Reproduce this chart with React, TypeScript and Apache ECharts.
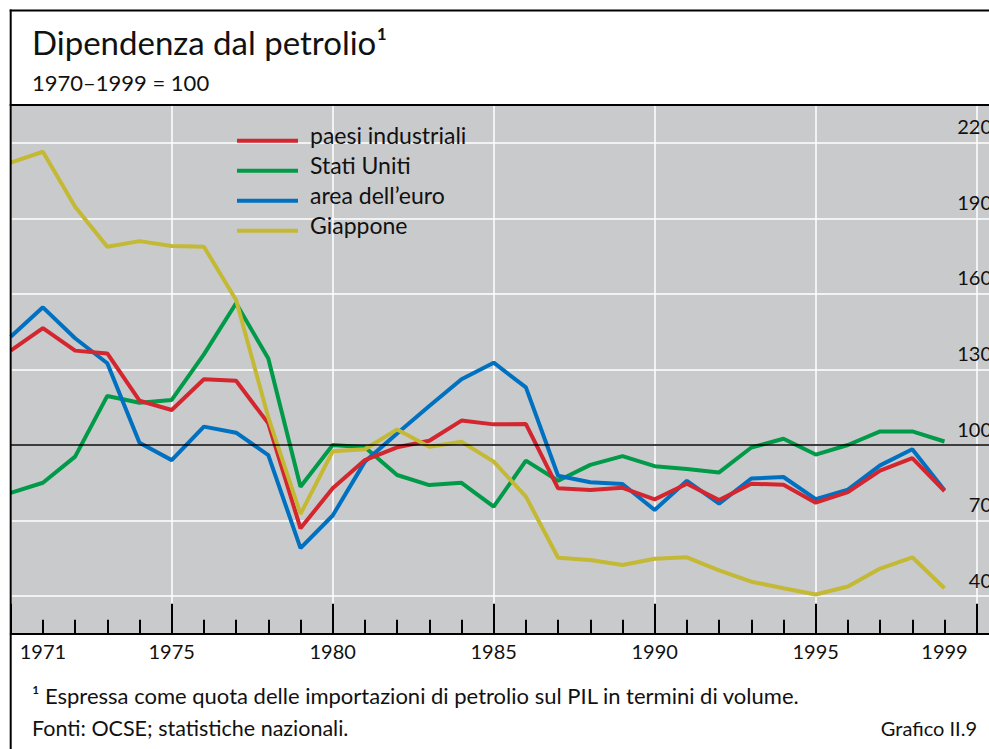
import React, { useEffect, useRef } from "react";
import * as echarts from "echarts";

const years = [
  1970, 1971, 1972, 1973, 1974, 1975, 1976, 1977, 1978, 1979,
  1980, 1981, 1982, 1983, 1984, 1985, 1986, 1987, 1988, 1989,
  1990, 1991, 1992, 1993, 1994, 1995, 1996, 1997, 1998, 1999,
];
const industrial = [
  137.5, 146.4, 137.5, 136.4, 117.6, 113.9, 126.1, 125.5, 108.6, 66.9,
  82.8, 94.0, 99.1, 101.7, 109.7, 108.2, 108.3, 82.8, 82.1, 83.0,
  78.4, 84.6, 78.1, 84.6, 84.2, 77.1, 81.3, 89.8, 94.8, 81.7,
];
const usa = [
  81.0, 85.0, 95.4, 119.5, 116.8, 117.9, 136.0, 156.3, 134.4, 83.4,
  100.0, 99.1, 88.1, 84.1, 85.0, 75.5, 93.8, 85.8, 92.1, 95.6,
  91.6, 90.5, 89.1, 99.0, 102.5, 96.2, 100.0, 105.4, 105.4, 101.4,
];
const euroArea = [
  143.0, 154.7, 142.4, 132.5, 100.9, 94.0, 107.3, 104.9, 96.0, 59.0,
  72.0, 93.4, 104.6, 115.5, 126.1, 132.7, 122.9, 87.8, 85.2, 84.5,
  74.2, 85.8, 76.7, 86.7, 87.3, 78.5, 82.3, 91.9, 98.3, 82.0,
];
const japan = [
  212.2, 216.5, 194.7, 178.8, 181.0, 179.1, 178.8, 157.6, 111.0, 72.6,
  97.5, 98.3, 106.2, 99.3, 101.3, 93.4, 79.5, 55.2, 54.3, 52.3,
  54.8, 55.4, 50.2, 45.7, 43.1, 40.6, 43.8, 50.9, 55.4, 43.1,
];
const seriesNames = ["paesi industriali", "Stati Uniti", "area dell\u2019euro", "Giappone"];
const xLabelYears = [1971, 1975, 1980, 1985, 1990, 1995, 1999];
const yLabelValues = [40, 70, 100, 130, 160, 190, 220];

const FONT = "Lato";
const TEXT = "#111111";

function pairs(vals: number[]) {
  return years.map((y, i) => [y, vals[i]]);
}

export default function App() {
  const ref = useRef<HTMLDivElement>(null);
  useEffect(() => {
    if (!ref.current) return;
    const chart = echarts.init(ref.current, undefined, { renderer: "svg" });
    const lineSeries = (name: string, vals: number[], color: string, extra: any = {}) => ({
      type: "line",
      name,
      data: pairs(vals),
      symbol: "none",
      color,
      lineStyle: { color, width: 4 },
      z: 3,
      ...extra,
    });
    chart.setOption({
      animation: false,
      grid: {
        left: 10.7,
        right: 58.9,
        top: 105.2,
        bottom: 115.2,
        show: true,
        backgroundColor: "#c9cacc",
        borderWidth: 0,
      },
      legend: {
        orient: "vertical",
        left: 237,
        top: 123.7,
        padding: 0,
        itemGap: 7,
        itemWidth: 61,
        itemHeight: 15,
        icon: "path://M0,0 M0,11 L61,11 L61,15 L0,15 Z",
        data: seriesNames,
        textStyle: {
          fontFamily: FONT,
          fontSize: 23,
          lineHeight: 23,
          color: TEXT,
          padding: [0, 0, 0, 7],
        },
      },
      xAxis: {
        type: "value",
        min: 1970,
        max: 2002,
        interval: 5,
        axisLine: { lineStyle: { color: "#000", width: 2 } },
        axisTick: { inside: true, length: 30, lineStyle: { color: "#000", width: 2 } },
        minorTick: { show: true, splitNumber: 5, length: 14, lineStyle: { color: "#000", width: 2 } },
        splitLine: { show: true, lineStyle: { color: "#ffffff", width: 1.5 } },
        axisLabel: {
          customValues: xLabelYears,
          formatter: (v: number) => String(v),
          fontFamily: FONT,
          fontSize: 20,
          color: TEXT,
          margin: 7,
        },
      },
      yAxis: {
        type: "value",
        position: "right",
        offset: -49.1,
        min: 25,
        max: 235,
        interval: 15,
        axisLine: { show: false },
        axisTick: { show: false },
        splitLine: {
          show: true,
          lineStyle: { color: ["rgba(0,0,0,0)", "#ffffff"], width: 1.5 },
        },
        axisLabel: {
          formatter: (v: number) => (yLabelValues.indexOf(v) >= 0 ? String(v) : ""),
          fontFamily: FONT,
          fontSize: 20,
          color: TEXT,
          margin: 0,
          align: "right",
          verticalAlign: "bottom",
          lineHeight: 33,
        },
      },
      series: [
        lineSeries(seriesNames[1], usa, "#009a49", {
          markLine: {
            silent: true,
            symbol: "none",
            label: { show: false },
            lineStyle: { color: "#000", width: 1.5, type: "solid" },
            data: [{ yAxis: 100 }],
          },
        }),
        lineSeries(seriesNames[2], euroArea, "#0070c0"),
        lineSeries(seriesNames[0], industrial, "#d3262f"),
        lineSeries(seriesNames[3], japan, "#c4b934"),
      ],
      graphic: [
        { type: "line", z: 100, shape: { x1: 10.7, y1: 9.5, x2: 10.7, y2: 749 }, style: { stroke: "#000", lineWidth: 2 } },
        { type: "line", z: 100, shape: { x1: 9.7, y1: 10.5, x2: 1100, y2: 10.5 }, style: { stroke: "#000", lineWidth: 2 } },
        { type: "line", z: 100, shape: { x1: 9.7, y1: 105, x2: 1100, y2: 105 }, style: { stroke: "#000", lineWidth: 2 } },
        {
          type: "text", z: 100, x: 32, y: 42.2,
          style: { text: "Dipendenza dal petrolio\u00b9", font: `33px ${FONT}`, fill: TEXT, align: "left", verticalAlign: "middle", textAlign: "left", textVerticalAlign: "middle" },
        },
        {
          type: "text", z: 100, x: 32, y: 82.2,
          style: { text: "1970\u20131999 = 100", font: `22px ${FONT}`, fill: TEXT, align: "left", verticalAlign: "middle", textAlign: "left", textVerticalAlign: "middle" },
        },
        {
          type: "text", z: 100, x: 32, y: 695.5,
          style: { text: "\u00b9 Espressa come quota delle importazioni di petrolio sul PIL in termini di volume.", font: `22px ${FONT}`, fill: TEXT, align: "left", verticalAlign: "middle", textAlign: "left", textVerticalAlign: "middle" },
        },
        {
          type: "text", z: 100, x: 32, y: 727.5,
          style: { text: "Fonti: OCSE; statistiche nazionali.", font: `21.5px ${FONT}`, fill: TEXT, align: "left", verticalAlign: "middle", textAlign: "left", textVerticalAlign: "middle" },
        },
        {
          type: "text", z: 100, x: 977, y: 727.5,
          style: { text: "Grafico II.9", font: `20px ${FONT}`, fill: TEXT, align: "right", verticalAlign: "middle", textAlign: "right", textVerticalAlign: "middle" },
        },
      ],
    });
    return () => chart.dispose();
  }, []);
  return (
    <div style={{ position: "fixed", left: 0, top: 0, width: 989, height: 749, overflow: "hidden", background: "#fff" }}>
      <div ref={ref} style={{ width: 1100, height: 749 }} />
    </div>
  );
}
